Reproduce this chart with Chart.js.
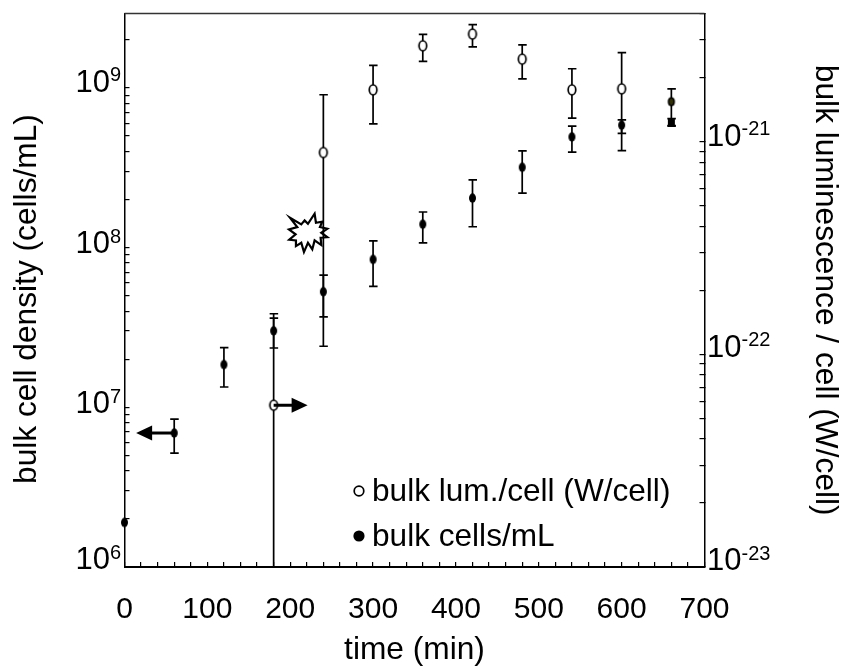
<!DOCTYPE html>
<html>
<head>
<meta charset="utf-8">
<style>
    html, body { margin: 0; padding: 0; background: #fff; }
    canvas { display: block; }
</style>
<script src="https://cdn.jsdelivr.net/npm/chart.js@4/dist/chart.umd.min.js"></script>
</head>
<body>
<canvas id="chart" width="846" height="666"></canvas>
<script>
// dados
const cellTimes = [0, 60, 120, 180, 240, 300, 360, 420, 480, 540, 600, 660];
const cellValues = [1.90e6, 6.90e6, 1.85e7, 3.01e7, 5.29e7, 8.43e7, 1.40e8, 2.04e8, 3.18e8, 4.93e8, 5.84e8, 6.10e8];
const cellHigh = [1.95e6, 8.44e6, 2.36e7, 3.85e7, 6.72e7, 1.10e8, 1.67e8, 2.65e8, 4.03e8, 5.76e8, 6.30e8, 6.41e8];
const cellLow = [1.85e6, 5.17e6, 1.34e7, 2.35e7, 2.41e7, 5.71e7, 1.07e8, 1.35e8, 2.19e8, 3.96e8, 5.18e8, 5.76e8];

const lumTimes = [180, 240, 300, 360, 420, 480, 540, 600, 660];
const lumValues = [5.76e-23, 8.88e-22, 1.75e-21, 2.82e-21, 3.20e-21, 2.44e-21, 1.75e-21, 1.77e-21, 1.54e-21];
const lumHigh = [1.48e-22, 1.66e-21, 2.28e-21, 3.19e-21, 3.55e-21, 2.85e-21, 2.20e-21, 2.62e-21, 1.77e-21];
const lumLow = [1e-23, 1.50e-22, 1.21e-21, 2.38e-21, 2.79e-21, 1.97e-21, 1.29e-21, 9.07e-22, 1.19e-21];

const xTickLabels = [0, 100, 200, 300, 400, 500, 600, 700];
const leftExponents = [6, 7, 8, 9];
const rightExponents = [-23, -22, -21];
const legendLabels = ['bulk lum./cell (W/cell)', 'bulk cells/mL'];

const FONT = '"Liberation Sans", Arial, sans-serif';
const INK = '#000';

// ajuste fino da linha de base dos rotulos (o original foi montado a mao)
const leftLabelNudge = { 6: 2, 7: 6, 8: 5.7, 9: 4 };
const rightLabelNudge = { '-23': 3.3, '-22': 2.6, '-21': 4 };

// marcadores elipticos (o original foi esticado na vertical)
function makeMarker(w, h, fill, stroke, square) {
    const c = document.createElement('canvas');
    c.width = Math.ceil(w) + 4;
    c.height = Math.ceil(h) + 4;
    const g = c.getContext('2d');
    g.beginPath();
    if (square) {
        g.rect((c.width - w) / 2, (c.height - h) / 2, w, h);
    } else {
        g.ellipse(c.width / 2, c.height / 2, w / 2, h / 2, 0, 0, Math.PI * 2);
    }
    g.fillStyle = fill;
    g.fill();
    if (stroke) {
        g.strokeStyle = stroke;
        g.lineWidth = 1.7;
        g.stroke();
    }
    return c;
}
const dotMark = makeMarker(7, 9.5, '#000');
const squareMark = makeMarker(7, 7.5, '#000', null, true);
const ringMark = makeMarker(7.6, 10, '#fff', INK);
const oliveMark = makeMarker(5.5, 7.5, '#333300', INK);

function decade(from, to, top) {
    const out = [];
    for (let e = from; e <= to; e++) {
        for (let m = 1; m <= 9; m++) {
            const v = Number(m + 'e' + e);
            if (v <= top) out.push({ value: v });
        }
    }
    return out;
}

// barras de erro
const errorBars = {
    id: 'errorBars',
    beforeDatasetsDraw(chart) {
        const ctx = chart.ctx;
        const x = chart.scales.x;
        const draw = (times, hi, lo, scale) => {
            times.forEach((t, i) => {
                const px = x.getPixelForValue(t);
                const top = scale.getPixelForValue(hi[i]);
                const bot = scale.getPixelForValue(lo[i]);
                ctx.beginPath();
                ctx.moveTo(px, top);
                ctx.lineTo(px, bot);
                ctx.moveTo(px - 4, top);
                ctx.lineTo(px + 4.5, top);
                if (bot < scale.bottom - 1) {
                    ctx.moveTo(px - 4, bot);
                    ctx.lineTo(px + 4.5, bot);
                }
                ctx.stroke();
            });
        };
        ctx.save();
        drawBurst(chart);
        ctx.strokeStyle = INK;
        ctx.lineWidth = 1.7;
        draw(lumTimes, lumHigh, lumLow, chart.scales.y2);
        draw(cellTimes.slice(1), cellHigh.slice(1), cellLow.slice(1), chart.scales.y);
        ctx.restore();
    }
};

// estrela marcando o instante da transicao
const burstOutline = [[-53,-43],[-19,-23],[-9,-35],[1,-25],[21,-55],[25,-28],[44,-31],[37,-15],[59,-10],[41,2],[59,15],[39,17],[41,39],[21,25],[14,52],[1,32],[-11,60],[-19,32],[-35,42],[-35,25],[-55,23],[-36,7],[-56,-8],[-31,-15]];
function drawBurst(chart) {
    const ctx = chart.ctx;
    const cx = chart.scales.x.getPixelForValue(221);
    const cy = chart.scales.y.getPixelForValue(1.25e8);
    ctx.beginPath();
    burstOutline.forEach((p, i) => {
        const px = cx + p[0] / 3, py = cy + p[1] / 3;
        if (i === 0) ctx.moveTo(px, py); else ctx.lineTo(px, py);
    });
    ctx.closePath();
    ctx.fillStyle = '#fff';
    ctx.fill();
    ctx.strokeStyle = '#000';
    ctx.lineWidth = 2.2;
    ctx.lineJoin = 'miter';
    ctx.stroke();
}

function drawArrow(ctx, x0, tip, y) {
    const dir = tip > x0 ? 1 : -1;
    ctx.beginPath();
    ctx.moveTo(x0, y);
    ctx.lineTo(tip - dir * 15, y);
    ctx.strokeStyle = '#000';
    ctx.lineWidth = 3;
    ctx.stroke();
    ctx.beginPath();
    ctx.moveTo(tip, y);
    ctx.lineTo(tip - dir * 16, y - 7.5);
    ctx.lineTo(tip - dir * 16, y + 7.5);
    ctx.closePath();
    ctx.fillStyle = '#000';
    ctx.fill();
}

function drawPower(ctx, exp, xPos, baseline, alignRight) {
    const base = '10';
    const sup = String(exp);
    ctx.textBaseline = 'alphabetic';
    ctx.textAlign = 'left';
    ctx.font = '31px ' + FONT;
    const bw = ctx.measureText(base).width;
    ctx.font = '20px ' + FONT;
    const sw = ctx.measureText(sup).width;
    const x0 = alignRight ? xPos - bw - sw : xPos;
    ctx.fillStyle = '#000';
    ctx.font = '31px ' + FONT;
    ctx.fillText(base, x0, baseline);
    ctx.font = '20px ' + FONT;
    ctx.fillText(sup, x0 + bw, baseline - 10.5);
}

const decorations = {
    id: 'decorations',
    afterDraw(chart) {
        const ctx = chart.ctx;
        const { x, y, y2 } = chart.scales;
        const area = chart.chartArea;
        ctx.save();

        // linha superior do quadro
        ctx.beginPath();
        ctx.moveTo(area.left, area.top);
        ctx.lineTo(area.right, area.top);
        ctx.strokeStyle = '#333';
        ctx.lineWidth = 1.6;
        ctx.stroke();

        // setas indicando o eixo de cada serie
        drawArrow(ctx, x.getPixelForValue(60), x.getPixelForValue(14), y.getPixelForValue(6.9e6));
        drawArrow(ctx, x.getPixelForValue(180), x.getPixelForValue(221), y2.getPixelForValue(5.76e-23));

        // rotulos com expoente
        leftExponents.forEach(e => {
            drawPower(ctx, e, 121, y.getPixelForValue(Number('1e' + e)) + leftLabelNudge[e], true);
        });
        rightExponents.forEach(e => {
            drawPower(ctx, e, 707, y2.getPixelForValue(Number('1e' + e)) + rightLabelNudge[e], false);
        });

        // legenda
        const legendX = x.getPixelForValue(283);
        ctx.fillStyle = '#000';
        ctx.textAlign = 'left';
        ctx.textBaseline = 'alphabetic';
        ctx.font = '31.6px ' + FONT;
        ctx.fillText(legendLabels[0], legendX + 13, 501);
        ctx.fillText(legendLabels[1], legendX + 13, 546);
        ctx.beginPath();
        ctx.arc(legendX, 491, 4.8, 0, Math.PI * 2);
        ctx.strokeStyle = INK;
        ctx.lineWidth = 1.7;
        ctx.stroke();
        ctx.beginPath();
        ctx.arc(legendX, 536, 5.6, 0, Math.PI * 2);
        ctx.fill();
        ctx.restore();
    }
};

const yAxis = (position, min, max, ticks, title) => ({
    type: 'logarithmic',
    position,
    min,
    max,
    afterBuildTicks: scale => { scale.ticks = ticks; },
    afterFit: scale => { scale.width = position === 'left' ? 124.5 : 141.5; },
    ticks: { display: false, autoSkip: false },
    grid: { drawOnChartArea: false, tickLength: -5, color: '#000', lineWidth: 1.2 },
    border: { color: '#000', width: 1.5 },
    title: {
        display: true,
        text: title,
        color: '#000',
        font: { family: FONT, size: 31.7 },
        padding: position === 'left' ? { top: 8, bottom: 0 } : { top: 2, bottom: 0 }
    }
});

new Chart(document.getElementById('chart'), {
    type: 'scatter',
    data: {
        datasets: [{
            label: legendLabels[1],
            yAxisID: 'y',
            data: cellTimes.map((t, i) => ({ x: t, y: cellValues[i] })),
            pointStyle: cellTimes.map(t => (t === 660 ? squareMark : dotMark)),
            showLine: false,
            clip: false
        }, {
            label: legendLabels[0],
            yAxisID: 'y2',
            data: lumTimes.map((t, i) => ({ x: t, y: lumValues[i] })),
            pointStyle: lumTimes.map(t => (t === 660 ? oliveMark : ringMark)),
            showLine: false,
            clip: false
        }]
    },
    options: {
        responsive: false,
        animation: false,
        layout: { padding: { top: 13.5, left: 0, right: 0, bottom: 0 } },
        plugins: { legend: { display: false }, tooltip: { enabled: false } },
        scales: {
            x: {
                type: 'linear',
                min: 0,
                max: 700,
                afterFit: scale => { scale.height = 99; },
                afterBuildTicks: scale => {
                    const t = [];
                    for (let v = 0; v <= 700; v += 20) t.push({ value: v });
                    scale.ticks = t;
                },
                ticks: {
                    autoSkip: false,
                    maxRotation: 0,
                    padding: 30,
                    color: '#000',
                    font: { family: FONT, size: 30 },
                    callback: v => (xTickLabels.includes(v) ? String(v) : '')
                },
                grid: { drawOnChartArea: false, tickLength: -5, color: '#000', lineWidth: 1.2 },
                border: { color: '#000', width: 2 },
                title: {
                    display: true,
                    text: 'time (min)',
                    color: '#000',
                    font: { family: FONT, size: 31.7 },
                    padding: { top: 0, bottom: -3 }
                }
            },
            y: yAxis('left', 1e6, 2.92e9, decade(6, 9, 2.92e9), 'bulk cell density (cells/mL)  '),
            y2: yAxis('right', 1e-23, 4e-21, decade(-23, -21, 4e-21), 'bulk luminescence / cell (W/cell)')
        }
    },
    plugins: [errorBars, decorations]
});
</script>
</body>
</html>
